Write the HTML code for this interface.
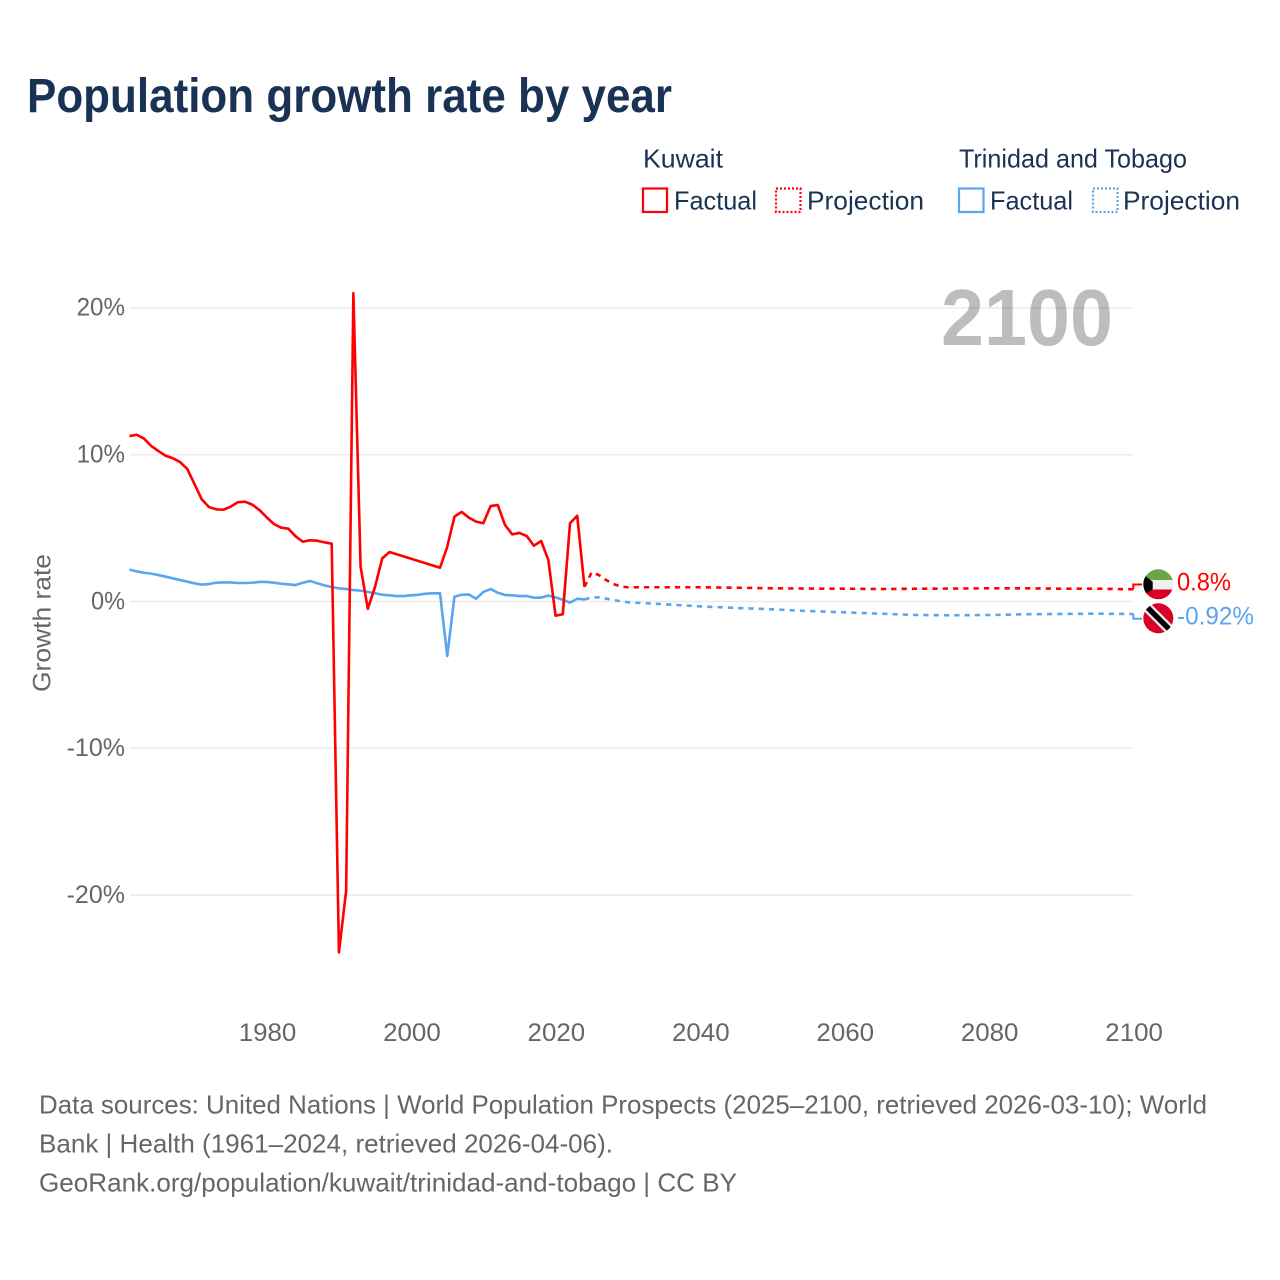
<!DOCTYPE html>
<html lang="en">
<head>
<meta charset="utf-8">
<title>Population growth rate by year</title>
<style>
  html, body { margin: 0; padding: 0; background: #fff; }
  svg { display: block; font-family: "Liberation Sans", sans-serif; }
</style>
</head>
<body>
<svg id="chart" xmlns="http://www.w3.org/2000/svg" width="1280" height="1280" viewBox="0 0 1280 1280">
  <defs>
    <clipPath id="clip-kw"><circle cx="1158.3" cy="584.3" r="15"/></clipPath>
    <clipPath id="clip-tt"><circle cx="1158.3" cy="618.3" r="15"/></clipPath>
  </defs>
  <rect width="1280" height="1280" fill="#fff"/>

  <text x="27" y="112" font-size="48" font-weight="700" fill="#1a3355" textLength="645" lengthAdjust="spacingAndGlyphs">Population growth rate by year</text>

  <g font-size="26" fill="#1a3355">
    <text x="643" y="167.5" textLength="80" lengthAdjust="spacingAndGlyphs">Kuwait</text>
    <text x="959" y="167.5" textLength="228" lengthAdjust="spacingAndGlyphs">Trinidad and Tobago</text>
    <rect x="643" y="188.5" width="24" height="23.5" fill="none" stroke="#ff0000" stroke-width="2.2"/>
    <text x="674" y="209.5" textLength="83" lengthAdjust="spacingAndGlyphs">Factual</text>
    <rect x="776" y="188.5" width="24.5" height="23.5" fill="none" stroke="#ff0000" stroke-width="2.2" stroke-dasharray="2 2"/>
    <text x="807" y="209.5" textLength="117" lengthAdjust="spacingAndGlyphs">Projection</text>
    <rect x="959" y="188.5" width="24.5" height="23.5" fill="none" stroke="#5ba5ee" stroke-width="2.2"/>
    <text x="990" y="209.5" textLength="83" lengthAdjust="spacingAndGlyphs">Factual</text>
    <rect x="1093" y="188.5" width="24.5" height="23.5" fill="none" stroke="#5ba5ee" stroke-width="2.2" stroke-dasharray="2 2"/>
    <text x="1123" y="209.5" textLength="117" lengthAdjust="spacingAndGlyphs">Projection</text>
  </g>

  <g id="grid"></g>
  <g id="y-ticks"></g>
  <g id="x-ticks"></g>

  <text transform="translate(50.5 692) rotate(-90)" font-size="25" fill="#666666" textLength="138" lengthAdjust="spacingAndGlyphs">Growth rate</text>

  <text x="941" y="345" font-size="80" font-weight="700" fill="#000000" fill-opacity="0.26" textLength="172" lengthAdjust="spacingAndGlyphs">2100</text>

  <g id="series"></g>

  <g clip-path="url(#clip-kw)">
    <rect x="1143" y="569" width="31" height="11" fill="#6da544"/>
    <rect x="1143" y="580" width="31" height="9.5" fill="#f0f0f0"/>
    <rect x="1143" y="589.5" width="31" height="10" fill="#d80027"/>
    <polygon points="1143,574 1152.7,581.7 1152.7,589.3 1143,595.7" fill="#000000"/>
  </g>
  <g clip-path="url(#clip-tt)">
    <rect x="1143" y="603" width="31" height="31" fill="#d80027"/>
    <line x1="1143" y1="603" x2="1174" y2="634" stroke="#f0f0f0" stroke-width="10"/>
    <line x1="1143" y1="603" x2="1174" y2="634" stroke="#000000" stroke-width="5.5"/>
  </g>

  <g id="end-labels"></g>

  <g font-size="26" fill="#666666">
    <text x="39" y="1113.5" textLength="1168" lengthAdjust="spacingAndGlyphs">Data sources: United Nations | World Population Prospects (2025–2100, retrieved 2026-03-10); World</text>
    <text x="39" y="1152.5" textLength="574" lengthAdjust="spacingAndGlyphs">Bank | Health (1961–2024, retrieved 2026-04-06).</text>
    <text x="39" y="1191.5" textLength="698" lengthAdjust="spacingAndGlyphs">GeoRank.org/population/kuwait/trinidad-and-tobago | CC BY</text>
  </g>
</svg>

<script>
const yTickValues = [20, 10, 0, -10, -20];
const xTickValues = [1980, 2000, 2020, 2040, 2060, 2080, 2100];

const factualYears = [1961,1962,1963,1964,1965,1966,1967,1968,1969,1970,1971,1972,1973,1974,1975,1976,1977,1978,1979,1980,1981,1982,1983,1984,1985,1986,1987,1988,1989,1990,1991,1992,1993,1994,1995,1996,1997,1998,1999,2000,2001,2002,2003,2004,2005,2006,2007,2008,2009,2010,2011,2012,2013,2014,2015,2016,2017,2018,2019,2020,2021,2022,2023,2024];
const kuwaitFactual = [11.27,11.36,11.1,10.6,10.25,9.93,9.76,9.5,9.03,8.0,6.96,6.44,6.28,6.25,6.46,6.76,6.8,6.6,6.23,5.73,5.28,5.03,4.96,4.44,4.07,4.17,4.14,4.03,3.94,-23.9,-19.7,21.0,2.37,-0.5,1.0,2.94,3.37,null,null,null,null,null,null,2.3,3.73,5.78,6.1,5.71,5.44,5.33,6.5,6.57,5.21,4.57,4.67,4.46,3.8,4.12,2.83,-0.97,-0.87,5.33,5.84,1.0];
const trinidadFactual = [2.17,2.05,1.96,1.9,1.8,1.69,1.58,1.46,1.35,1.24,1.15,1.19,1.28,1.3,1.3,1.26,1.26,1.28,1.33,1.33,1.28,1.21,1.17,1.12,1.28,1.4,1.24,1.1,0.99,0.9,0.85,0.78,0.74,0.65,0.56,0.46,0.42,0.37,0.37,0.42,0.46,0.53,0.56,0.56,-3.71,0.33,0.46,0.48,0.19,0.65,0.85,0.6,0.44,0.42,0.37,0.37,0.26,0.26,0.4,0.28,0.12,-0.08,0.19,0.14];

const projectionYears = [2024,2025,2026,2027,2028,2029,2030,2035,2040,2045,2050,2055,2060,2065,2070,2075,2080,2085,2090,2095,2100];
const kuwaitProjection = [1.0,1.99,1.8,1.46,1.19,1.03,0.97,0.97,0.97,0.94,0.9,0.88,0.87,0.85,0.87,0.88,0.9,0.9,0.87,0.87,0.83];
const trinidadProjection = [0.14,0.28,0.28,0.19,0.1,0.02,-0.05,-0.19,-0.33,-0.44,-0.53,-0.65,-0.74,-0.83,-0.92,-0.94,-0.92,-0.87,-0.85,-0.83,-0.85];

const endLabelTexts = ['0.8%', '-0.92%'];

const NS = 'http://www.w3.org/2000/svg';
const RED = '#ff0000';
const BLUE = '#5ba5ee';

function xScale(year) { return 129.5 + (year - 1961) * (1133.3 - 129.5) / (2100 - 1961); }
function yScale(value) { return 601.5 - value * 14.68; }

function make(tag, attrs, parent) {
  const el = document.createElementNS(NS, tag);
  for (const k in attrs) el.setAttribute(k, attrs[k]);
  parent.appendChild(el);
  return el;
}
function tickWidth(label) {
  let w = 0;
  for (const c of label) w += c === '%' ? 19.6 : c === '-' ? 10 : c === '.' ? 7 : 14.4;
  return w;
}
function pathFrom(years, values) {
  const pts = [];
  years.forEach(function (yr, i) {
    if (values[i] !== null) pts.push(xScale(yr).toFixed(2) + ',' + yScale(values[i]).toFixed(2));
  });
  return pts.join(' ');
}

const grid = document.getElementById('grid');
const yTicks = document.getElementById('y-ticks');
const xTicks = document.getElementById('x-ticks');
const series = document.getElementById('series');
const endLabels = document.getElementById('end-labels');

yTickValues.forEach(function (v) {
  const line = make('line', { x1: 130, x2: 1133, y1: yScale(v), y2: yScale(v), stroke: '#ebebeb', 'stroke-width': 1.5 }, grid);
  
  
  const label = v + '%';
  const t = make('text', { x: 125, y: yScale(v) + 7.8, 'text-anchor': 'end', 'font-size': 25, fill: '#666666', textLength: tickWidth(label), lengthAdjust: 'spacingAndGlyphs' }, yTicks);
  
  
  t.textContent = label;
});

xTickValues.forEach(function (yr) {
  const label = String(yr);
  const t = make('text', { x: xScale(yr) + 0.8, y: 1041, 'text-anchor': 'middle', 'font-size': 25, fill: '#666666', textLength: tickWidth(label), lengthAdjust: 'spacingAndGlyphs' }, xTicks);
  
  
  t.textContent = label;
});

const trinidadProjLine = make('polyline', { points: pathFrom(projectionYears, trinidadProjection), fill: 'none', stroke: BLUE, 'stroke-width': 2.6, 'stroke-dasharray': '5.2 5.1' }, series);



const trinidadLine = make('polyline', { points: pathFrom(factualYears, trinidadFactual), fill: 'none', stroke: BLUE, 'stroke-width': 2.6, 'stroke-linejoin': 'round' }, series);



const kuwaitProjLine = make('polyline', { points: pathFrom(projectionYears, kuwaitProjection), fill: 'none', stroke: RED, 'stroke-width': 2.6, 'stroke-dasharray': '5.2 5.1' }, series);



const kuwaitLine = make('polyline', { points: pathFrom(factualYears, kuwaitFactual), fill: 'none', stroke: RED, 'stroke-width': 2.6, 'stroke-linejoin': 'round' }, series);



const endX = xScale(2100);
const kuwaitEndY = yScale(kuwaitProjection[kuwaitProjection.length - 1]);
const trinidadEndY = yScale(trinidadProjection[trinidadProjection.length - 1]);

const kuwaitLeader = make('polyline', { points: endX + ',' + kuwaitEndY + ' ' + endX + ',584.5 1142,584.5', fill: 'none', stroke: RED, 'stroke-width': 2 }, series);



const trinidadLeader = make('polyline', { points: endX + ',' + trinidadEndY + ' ' + endX + ',618.8 1142,618.8', fill: 'none', stroke: BLUE, 'stroke-width': 2 }, series);



const kuwaitLabel = make('text', { x: 1177, y: 590.5, 'font-size': 25, fill: RED, textLength: 54, lengthAdjust: 'spacingAndGlyphs' }, endLabels);


kuwaitLabel.textContent = endLabelTexts[0];

const trinidadLabel = make('text', { x: 1177, y: 624.5, 'font-size': 25, fill: BLUE, textLength: 77, lengthAdjust: 'spacingAndGlyphs' }, endLabels);


trinidadLabel.textContent = endLabelTexts[1];
</script>
</body>
</html>
